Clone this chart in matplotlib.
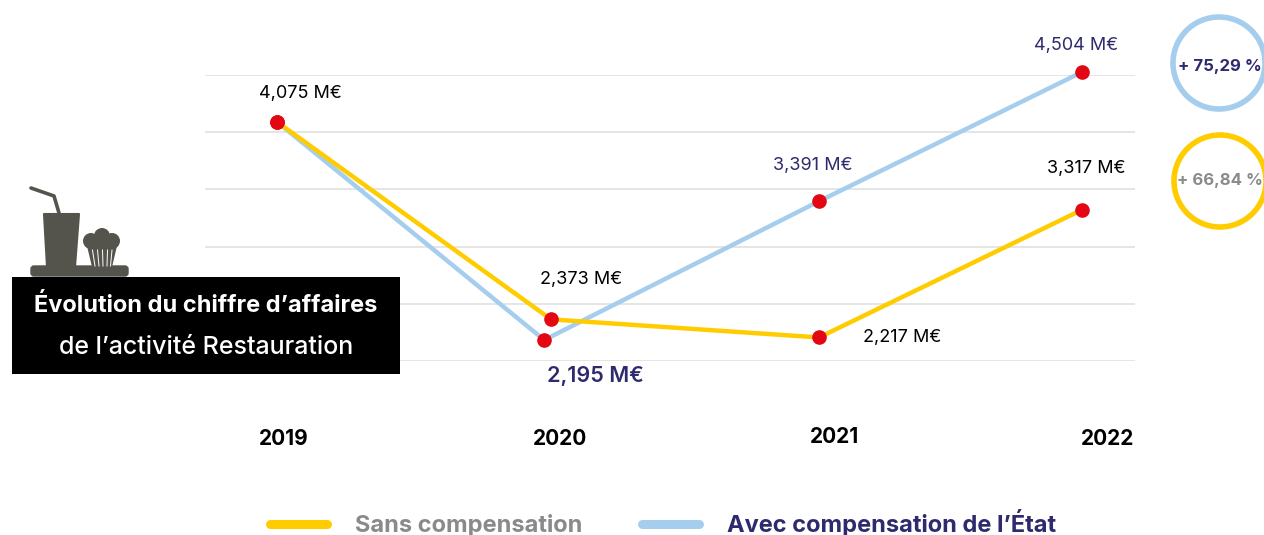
import matplotlib
matplotlib.use("Agg")
import matplotlib.pyplot as plt
from matplotlib.lines import Line2D
from matplotlib.patches import Circle, FancyBboxPatch, Polygon, Rectangle
from matplotlib.transforms import ScaledTranslation

# ---- data ----
years = ["2019", "2020", "2021", "2022"]
sans_compensation = [4.075, 2.373, 2.217, 3.317]
avec_compensation = [4.075, 2.195, 3.391, 4.504]
sans_positions = [0.0, 1.021, 2.02, 3.0]
avec_positions = [0.0, 0.996, 2.02, 3.0]
sans_labels = ["", "2,373 M€", "2,217 M€", "3,317 M€"]
avec_labels = ["4,075 M€", "2,195 M€", "3,391 M€", "4,504 M€"]
evolution_labels = ["+ 75,29 %", "+ 66,84 %"]
legend_labels = ["Sans compensation", "Avec compensation de l’État"]
title_lines = ["Évolution du chiffre d’affaires", "de l’activité Restauration"]
grid_values = [2.014, 2.507, 3.0, 3.493, 3.986, 4.479]
tick_positions = [0.026, 1.055, 2.076, 3.097]

# ---- style ----
W, H, DPI = 1264, 535, 100
YELLOW, BLUE, RED = "#FFCC00", "#A5CDEE", "#E30613"
NAVY, GRAY, ICON, GRID = "#2E2A6E", "#8A8A8A", "#55544C", "#DEDEDE"
plt.rcParams["font.family"] = ["Inter", "DejaVu Sans"]
px = 72 / DPI

fig = plt.figure(figsize=(W / DPI, H / DPI), dpi=DPI, facecolor="white")

# Chart axes: spans the gridlines
ax = fig.add_axes([205 / W, 1 - 361 / H, 930 / W, 286 / H])
ax.set_xlim((205 - 277) / 268.33, (1135 - 277) / 268.33)
ax.set_ylim(grid_values[0], grid_values[-1])
for s in ax.spines.values():
    s.set_visible(False)
ax.set_yticks(grid_values)
ax.set_yticklabels([])
ax.tick_params(axis="both", length=0)
ax.grid(axis="y", color=GRID, lw=1.1)
ax.set_axisbelow(True)
ax.set_xticks(tick_positions)
ax.set_xticklabels(years, fontsize=15, fontweight="bold", color="black")
ax.tick_params(axis="x", pad=49)
ax.get_xticklabels()[2].set_transform(
    ax.get_xticklabels()[2].get_transform()
    + ScaledTranslation(0, 2 * px / 72, fig.dpi_scale_trans))

ax.plot(avec_positions, avec_compensation, color=BLUE, lw=3.2, clip_on=False, zorder=3)
ax.plot(sans_positions, sans_compensation, color=YELLOW, lw=3.2, clip_on=False, zorder=4)
ax.plot(avec_positions, avec_compensation, ls="none", marker="o", ms=9.5, color=RED,
        clip_on=False, zorder=5)
ax.plot(sans_positions, sans_compensation, ls="none", marker="o", ms=9.5, color=RED,
        clip_on=False, zorder=5)

# value labels (offsets in pixels from their points)
sans_offsets = [None, (30, 40), (83, 0), (4, 41)]
avec_offsets = [(23, 28), (51, -36), (-6, 36), (-6, 27)]
for xs, ys, labels, offs, col in [
    (sans_positions, sans_compensation, sans_labels, sans_offsets, "black"),
    (avec_positions, avec_compensation, avec_labels, avec_offsets, NAVY),
]:
    for x, y, t, o in zip(xs, ys, labels, offs):
        if not t:
            continue
        c = "black" if t == "4,075 M€" else col
        fs = 15.5 if t == "2,195 M€" else 13
        fw = "semibold" if t == "2,195 M€" else "normal"
        ax.annotate(t, (x, y), xytext=(o[0] * px, o[1] * px), textcoords="offset points",
                    ha="center", va="center", fontsize=fs, color=c, fontweight=fw,
                    annotation_clip=False)

# legend
handles = [Line2D([], [], color=YELLOW, lw=6.5, solid_capstyle="round"),
           Line2D([], [], color=BLUE, lw=6.5, solid_capstyle="round")]
leg = fig.legend(handles, legend_labels, ncol=2, frameon=False,
                 loc="center left", bbox_to_anchor=(270 / W, 1 - 523 / H),
                 handlelength=2.42, handletextpad=1.2, columnspacing=2.5,
                 borderpad=0, borderaxespad=0,
                 labelcolor=[GRAY, NAVY], prop={"weight": "bold", "size": 17})

# Overlay in pixel coordinates for decorations
ov = fig.add_axes([0, 0, 1, 1], zorder=10)
ov.set_xlim(0, W)
ov.set_ylim(H, 0)
ov.axis("off")
ov.patch.set_alpha(0)

# evolution badges
for (cx, cy), col, t, tc, dy in [((1219, 63), BLUE, evolution_labels[0], NAVY, 4),
                                 ((1220, 181), YELLOW, evolution_labels[1], GRAY, 0)]:
    ov.add_patch(Circle((cx, cy), 46, fill=False, ec=col, lw=4))
    ov.text(1219.5, cy + dy, t, ha="center", va="center", fontsize=12, fontweight="bold", color=tc)

# icon
ov.plot([31, 54, 59], [188, 196, 213], color=ICON, lw=2.6, solid_capstyle="round",
        solid_joinstyle="round")
ov.add_patch(Polygon([(44, 214), (79, 214), (75, 267), (47, 267)], closed=True, fc=ICON, ec=ICON, lw=1.5,
                     joinstyle="round"))
ov.add_patch(FancyBboxPatch((31, 266), 97, 10, boxstyle="round,pad=0,rounding_size=3", fc=ICON, ec=ICON, lw=1))
for c, r in [((102, 236), 8), ((91, 241), 8), ((112, 241), 8), ((102, 242), 9)]:
    ov.add_patch(Circle(c, r, fc=ICON, ec="none"))
ov.add_patch(Polygon([(87, 246), (117, 246), (112, 267), (92, 267)], closed=True, fc=ICON, ec="none"))
for xb, xt in [(95, 92.5), (99, 97.5), (103, 102.5), (107, 107.5), (110.5, 112)]:
    ov.plot([xt, xb], [250, 266], color="white", lw=0.7)

# title box
ov.add_patch(Rectangle((12, 277), 388, 97, fc="black", ec="none", zorder=6))
ov.text(206, 306, title_lines[0], ha="center", va="center", color="white", fontsize=17,
        fontweight="bold", zorder=7)
ov.text(206, 347, title_lines[1], ha="center", va="center", color="white", fontsize=18,
        fontweight="medium", zorder=7)

fig.savefig("out.png", dpi=DPI, facecolor="white")
